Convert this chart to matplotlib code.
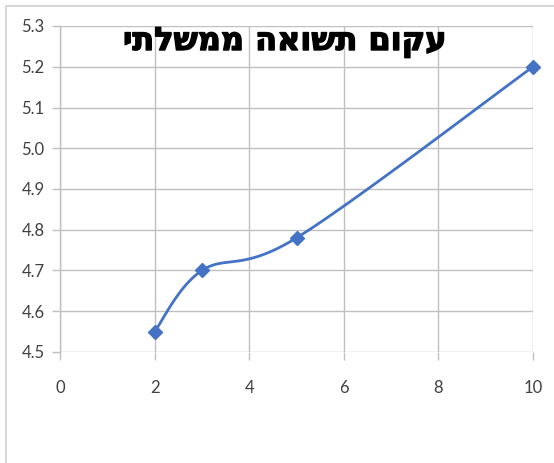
import matplotlib

matplotlib.use("Agg")
import matplotlib.pyplot as plt
import matplotlib.patheffects as pe
import numpy as np
from matplotlib.patches import Rectangle

# Government bond yield curve: years to maturity vs yield (%)
maturity = [2, 3, 5, 10]
yield_pct = [4.55, 4.70, 4.78, 5.20]
title_he = "עקום תשואה ממשלתי"

x_ticks = [0, 2, 4, 6, 8, 10]
y_ticks = [4.5, 4.6, 4.7, 4.8, 4.9, 5.0, 5.1, 5.2, 5.3]

BLUE = "#4472C4"
GRID = "#c0c0c0"
TEXT = "#404040"

plt.rcParams["font.family"] = ["Lato", "DejaVu Sans"]


def smooth_curve(xs, ys, sx, sy, n=40):
    """Catmull-Rom style smoothing (like spreadsheet 'smoothed line'), done in scaled space."""
    p = np.column_stack([np.asarray(xs, float) * sx, np.asarray(ys, float) * sy])
    ext = np.vstack([p[0], p, p[-1]])
    out = []
    for i in range(len(p) - 1):
        p0, p1, p2, p3 = ext[i], ext[i + 1], ext[i + 2], ext[i + 3]
        c1 = p1 + (p2 - p0) / 6.0
        c2 = p2 - (p3 - p1) / 6.0
        t = np.linspace(0, 1, n)[:, None]
        seg = ((1 - t) ** 3) * p1 + 3 * ((1 - t) ** 2) * t * c1 + 3 * (1 - t) * t ** 2 * c2 + t ** 3 * p2
        out.append(seg if i == 0 else seg[1:])
    out = np.vstack(out)
    return out[:, 0] / sx, out[:, 1] / sy


fig = plt.figure(figsize=(5.54, 4.63), dpi=100)
fig.patch.set_facecolor("white")

# chart frame
fig.patches.append(Rectangle((6 / 554, -0.05), 1.1, 1.05 - 6 / 463, transform=fig.transFigure,
                             fill=False, edgecolor="#d0d0d0", linewidth=1.2))

ax = fig.add_axes([60 / 554, 1 - 352 / 463, 473 / 554, 326 / 463])
ax.set_xlim(0, 10)
ax.set_ylim(4.5, 5.3)
ax.set_xticks(x_ticks)
ax.set_yticks(y_ticks)
ax.set_xticklabels([str(v) for v in x_ticks])
ax.set_yticklabels([f"{v:.1f}" for v in y_ticks])

for s in ["top", "right", "bottom"]:
    ax.spines[s].set_visible(False)
ax.spines["left"].set_color(GRID)
ax.spines["left"].set_linewidth(1.0)

ax.grid(True, color=GRID, linewidth=1.0)
ax.set_axisbelow(True)
ax.tick_params(axis="both", colors=GRID, labelcolor=TEXT, labelsize=12, direction="out", length=6, width=1.0)
ax.tick_params(axis="x", pad=14)
ax.tick_params(axis="y", pad=5)

sx, sy = 473 / 10.0, 326 / 0.8
cx, cy = smooth_curve(maturity, yield_pct, sx, sy)
ax.plot(cx, cy, color=BLUE, linewidth=2.0, clip_on=False, zorder=3)
ax.plot(maturity, yield_pct, linestyle="none", marker="D", markersize=7,
        color=BLUE, clip_on=False, zorder=4)

# no bidi in matplotlib, so feed the Hebrew string in visual order
fig.text(285 / 554, 1 - 42 / 463, title_he[::-1], ha="center", va="center",
         fontsize=23, fontweight="bold", color="black", family=["DejaVu Sans"],
         path_effects=[pe.withStroke(linewidth=1.0, foreground="black")])

fig.savefig("out.png", dpi=100, facecolor=fig.get_facecolor())
